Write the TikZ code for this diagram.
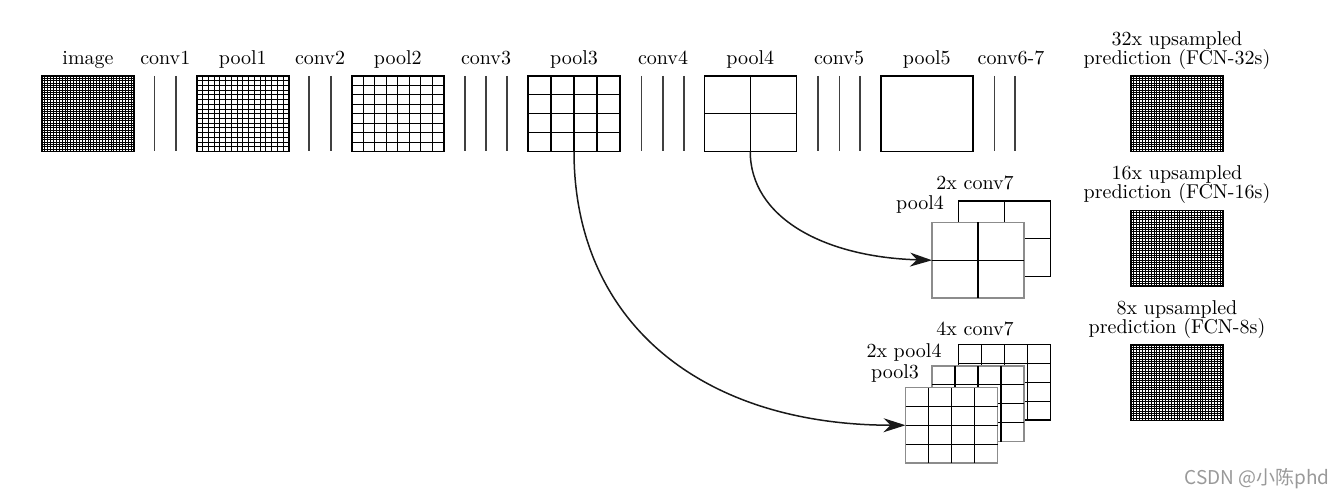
\documentclass[tikz,border=0pt]{standalone}
\usepackage{fontspec}
\newfontfamily\wmfont{Noto Sans CJK SC}
\usetikzlibrary{calc,arrows.meta}
\newcommand{\mygridfill}[3][0.5pt]{%
  \pgfmathtruncatemacro{\gm}{#3-1}%
  \ifnum\gm>0
  \foreach \i in {1,...,\gm}{%
    \draw[line width=#1] ($(#2.north west)!\i/#3!(#2.north east)$) -- ($(#2.south west)!\i/#3!(#2.south east)$);
    \draw[line width=#1] ($(#2.north west)!\i/#3!(#2.south west)$) -- ($(#2.north east)!\i/#3!(#2.south east)$);
  }%
  \fi
}
\begin{document}
\begin{tikzpicture}[x=0.5pt,y=0.5pt,
  every node/.style={font=\fontsize{10}{12}\selectfont},
  lbl/.style={anchor=base, inner sep=0pt},
  fmap/.style={draw=black, line width=0.75pt, fill=white, minimum width=46pt, minimum height=37.75pt, inner sep=0pt, outer sep=0pt},
  fmapg/.style={fmap, draw=black!45},
  convline/.style={draw=black!75, line width=0.75pt},
  skip/.style={draw=black!90, line width=0.75pt, -{Stealth[length=11pt,width=7pt,inset=3.5pt]}}
]
\useasboundingbox (0,0) rectangle (1343,-497);

% ---- top row labels
\node[lbl] (limg) at (88,-65) {image};
\node[lbl] (lc1) at (165.25,-65) {conv1};
\node[lbl] (lp1) at (242.75,-65) {pool1};
\node[lbl] (lc2) at (320,-65) {conv2};
\node[lbl] (lp2) at (397.75,-65) {pool2};
\node[lbl] (lc3) at (486,-65) {conv3};
\node[lbl] (lp3) at (574,-65) {pool3};
\node[lbl] (lc4) at (663,-65) {conv4};
\node[lbl] (lp4) at (750.25,-65) {pool4};
\node[lbl] (lc5) at (839,-65) {conv5};
\node[lbl] (lp5) at (926.75,-65) {pool5};
\node[lbl] (lc67) at (1011,-65) {conv6-7};

% ---- top row feature maps
\node[fmap] (img) at (88,-113.75) {};
\mygridfill[0.45pt]{img}{32}
\node[fmap] (pool1) at (242.75,-113.75) {};
\mygridfill[0.5pt]{pool1}{16}
\node[fmap] (pool2) at (397.75,-113.75) {};
\mygridfill[0.55pt]{pool2}{8}
\node[fmap] (pool3) at (574,-113.75) {};
\mygridfill[0.6pt]{pool3}{4}
\node[fmap] (pool4) at (750.25,-113.75) {};
\mygridfill[0.6pt]{pool4}{2}
\node[fmap] (pool5) at (926.75,-113.75) {};

% ---- conv layers
\foreach \x in {154.5,176, 309,331, 465,486,507, 641.5,663,684, 818,839.5,860, 994.5,1015}
  \draw[convline] (\x,-76) -- (\x,-151.5);

% ---- predictions
\node[lbl] (t32a) at (1177,-45.5) {32x upsampled};
\node[lbl] (t32b) at (1177,-64.5) {prediction (FCN-32s)};
\node[fmap] (pr32) at (1177,-113.75) {};
\mygridfill[0.45pt]{pr32}{32}

\node[lbl] (t16a) at (1177,-180) {16x upsampled};
\node[lbl] (t16b) at (1177,-199) {prediction (FCN-16s)};
\node[fmap] (pr16) at (1177,-248.25) {};
\mygridfill[0.45pt]{pr16}{32}

\node[lbl] (t8a) at (1177,-314.5) {8x upsampled};
\node[lbl] (t8b) at (1177,-333.5) {prediction (FCN-8s)};
\node[fmap] (pr8) at (1177,-382.75) {};
\mygridfill[0.45pt]{pr8}{32}

% ---- FCN-16s stack
\node[lbl] (l2c7) at (975,-190) {2x conv7};
\node[fmap] (c7a) at (1004.5,-238.75) {};
\mygridfill[0.6pt]{c7a}{2}
\node[lbl] (lp4s) at (920,-210) {pool4};
\node[fmapg] (p4a) at (978,-260.25) {};
\mygridfill[0.6pt]{p4a}{2}

% ---- FCN-8s stack
\node[lbl] (l4c7) at (975,-335) {4x conv7};
\node[fmap] (c7b) at (1004.5,-382.25) {};
\mygridfill[0.6pt]{c7b}{4}
\node[lbl] (l2p4) at (904,-357) {2x pool4};
\node[fmapg] (p4b) at (978,-403.75) {};
\mygridfill[0.6pt]{p4b}{4}
\node[lbl] (lp3s) at (895,-378) {pool3};
\node[fmapg] (p3b) at (951.5,-425.25) {};
\mygridfill[0.6pt]{p3b}{4}

% ---- skip connections
\draw[skip] (pool4.south) .. controls (750.25,-217) and (823,-257) .. (p4a.west);
\draw[skip] (pool3.south) .. controls (574,-321) and (700,-425) .. (p3b.west);

% ---- watermark
\node[anchor=base west, inner sep=0pt, text=black!40, font=\wmfont\fontsize{9.5}{11}\selectfont] (wm) at (1184,-484) {CSDN @小陈phd};
\end{tikzpicture}
\end{document}
